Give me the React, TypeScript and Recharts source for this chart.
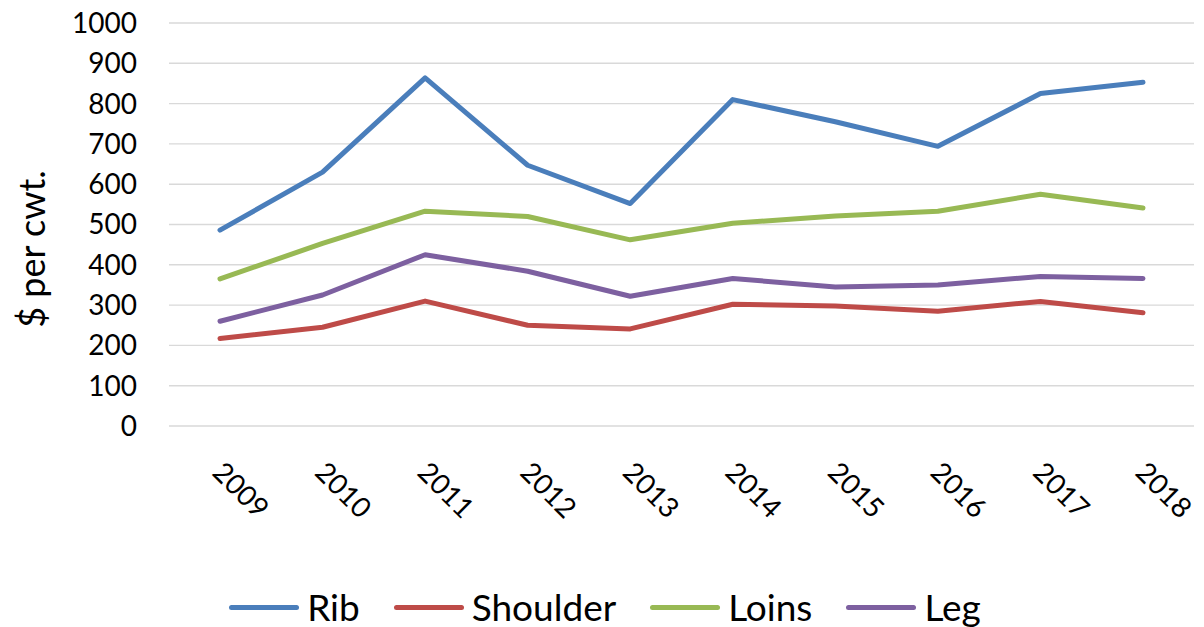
//CutPriceLineChart
import React from 'react';
import { LineChart, Line, XAxis, YAxis, CartesianGrid, Legend } from 'recharts';

const years = ['2009', '2010', '2011', '2012', '2013', '2014', '2015', '2016', '2017', '2018'];
const rib = [486, 630, 864, 647, 552, 810, 755, 694, 825, 853];
const shoulder = [217, 245, 310, 250, 241, 302, 298, 285, 309, 281];
const loins = [365, 453, 533, 520, 462, 503, 521, 533, 575, 541];
const leg = [260, 325, 425, 384, 322, 366, 345, 350, 371, 366];
const yTicks = [0, 100, 200, 300, 400, 500, 600, 700, 800, 900, 1000];

const series = [
  { key: 'Rib', color: '#4A7EBB' },
  { key: 'Shoulder', color: '#BE4B48' },
  { key: 'Loins', color: '#98B954' },
  { key: 'Leg', color: '#7D60A0' },
];

const data = years.map((year, i) => ({
  year,
  Rib: rib[i],
  Shoulder: shoulder[i],
  Loins: loins[i],
  Leg: leg[i],
}));

const FONT = 'Lato, "Open Sans", sans-serif';

const YearTick = (props: any) => {
  const { x, y, payload } = props;
  const tx = x - 9;
  const ty = y + 48;
  return (
    <text x={tx} y={ty} transform={`rotate(45, ${tx}, ${ty})`} textAnchor='start'
      fontSize={28} fontFamily={FONT} fill='#000'>
      {payload.value}
    </text>
  );
};

const AxisTitle = () => (
  <text x={37} y={241} transform='rotate(-90, 37, 241)' textAnchor='middle'
    fontSize={36} fontFamily={FONT} fill='#000'>
    $ per cwt.
  </text>
);

const LegendContent = () => (
  <div style={{ display: 'flex', justifyContent: 'center', alignItems: 'center', height: 40, paddingLeft: 8, fontFamily: FONT }}>
    {series.map((s, i) => (
      <div key={s.key} style={{ display: 'flex', alignItems: 'center', marginRight: i < series.length - 1 ? 34 : 0 }}>
        <span style={{ display: 'inline-block', width: 70, height: 5, borderRadius: 3, background: s.color, marginRight: 8 }} />
        <span style={{ fontSize: 37, color: '#000', lineHeight: '40px' }}>{s.key}</span>
      </div>
    ))}
  </div>
);

const App: React.FC = () => {
  return (
    <div style={{ width: 1196, height: 619 }}>
      <LineChart width={1196} height={619} data={data} margin={{ top: 15, right: 10, left: 0, bottom: 0 }}>
        <CartesianGrid vertical={false} stroke='#d9d9d9' strokeWidth={1.4} />
        <XAxis dataKey='year' axisLine={false} tickLine={false} tickSize={0} tickMargin={0}
          height={161} interval={0} padding={{ left: 51, right: 51 }} tick={<YearTick />} />
        <YAxis domain={[0, 1000]} ticks={yTicks} axisLine={false} tickLine={false} tickSize={0}
          tickMargin={32} width={161} interval={0}
          tick={{ fontSize: 28, fontFamily: FONT, fill: '#000' }}
          label={<AxisTitle />} />
        <Legend verticalAlign='bottom' content={<LegendContent />} />
        {series.map((s) => (
          <Line key={s.key} type='linear' dataKey={s.key} stroke={s.color} strokeWidth={5}
            strokeLinecap='round' strokeLinejoin='round' dot={false} activeDot={false}
            isAnimationActive={false} />
        ))}
      </LineChart>
    </div>
  );
};

export default App;
